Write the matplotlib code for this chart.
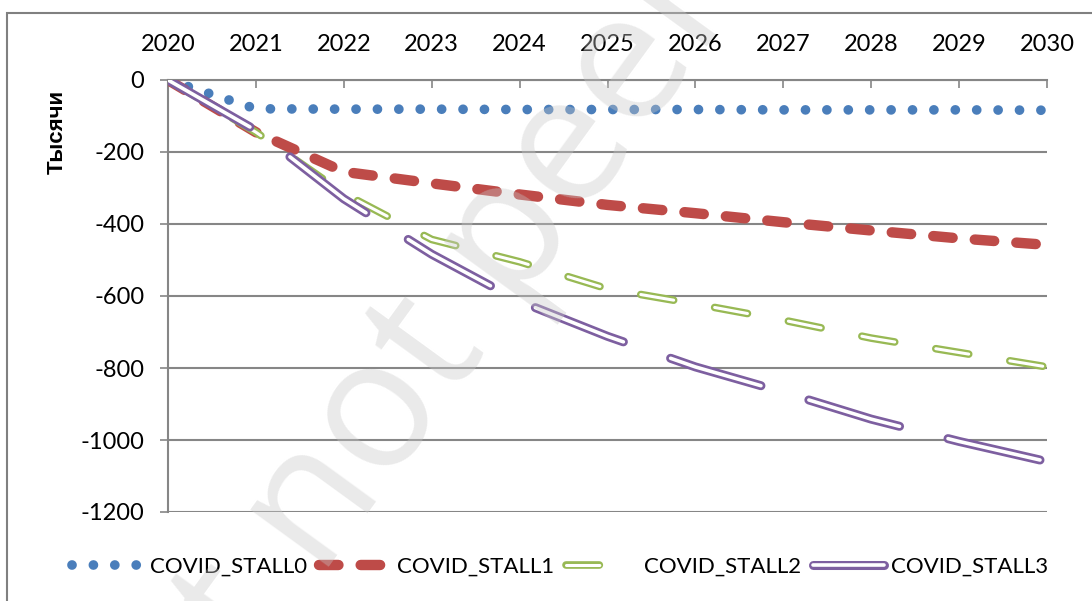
import matplotlib
matplotlib.use("Agg")
import matplotlib.pyplot as plt
from matplotlib.patches import Rectangle
from matplotlib.legend_handler import HandlerTuple

plt.rcParams['font.family'] = ['Lato', 'DejaVu Sans']
plt.rcParams['lines.scale_dashes'] = False
plt.rcParams['axes.unicode_minus'] = False

years = [2020, 2021, 2022, 2023, 2024, 2025, 2026, 2027, 2028, 2029, 2030]
stall0 = [0, -80, -81, -81, -82, -82, -82, -83, -83, -83, -84]
stall1 = [0, -145, -255, -287, -318, -347, -370, -395, -418, -440, -458]
stall2 = [0, -145, -315, -443, -505, -580, -622, -667, -717, -757, -797]
stall3 = [0, -140, -330, -484, -615, -712, -797, -867, -942, -1004, -1060]
labels = ["COVID_STALL0", "COVID_STALL1", "COVID_STALL2", "COVID_STALL3"]

grey = "#868686"

fig = plt.figure(figsize=(10.92, 6.01), dpi=100)
ax = fig.add_axes([168 / 1092, 1 - 512 / 601, (1047 - 168) / 1092, (512 - 80) / 601])

# blue round dots
l0, = ax.plot(years, stall0, color="#4a7ebb", lw=7, dashes=(0.01, 15.4),
              dash_capstyle="round", zorder=3)
# red dashes
l1, = ax.plot(years, stall1, color="#be4b48", lw=7.5, dashes=(14, 16),
              dash_capstyle="round", zorder=3)
# green hollow dashes
l2a, = ax.plot(years, stall2, color="#98b954", lw=5.5, dashes=(24, 30),
               dash_capstyle="round", zorder=4)
l2b, = ax.plot(years, stall2, color="white", lw=2.2, dashes=(24, 30),
               dash_capstyle="round", zorder=4)
# purple hollow long dashes
l3a, = ax.plot(years, stall3, color="#7d5fa0", lw=6.5, dashes=(68, 36),
               dash_capstyle="round", zorder=5)
l3b, = ax.plot(years, stall3, color="white", lw=2.6, dashes=(68, 36),
               dash_capstyle="round", zorder=5)

ax.set_xlim(2020, 2030)
ax.set_ylim(-1200, 0)
ax.set_xticks(years)
ax.set_yticks(range(-1200, 1, 200))
ax.xaxis.tick_top()
ax.tick_params(axis="x", direction="in", length=6, width=1.2, color=grey,
               labelsize=17, pad=18)
ax.tick_params(axis="y", direction="out", length=6, width=1.2, color=grey,
               labelsize=17, pad=11)
ax.yaxis.grid(True, color=grey, lw=1.5)
ax.set_axisbelow(True)
for s in ["right", "bottom"]:
    ax.spines[s].set_visible(False)
for s in ["left", "top"]:
    ax.spines[s].set_color(grey)
    ax.spines[s].set_linewidth(1.5)

fig.text(57 / 1092, 1 - 132 / 601, "Тысячи", rotation=90, ha="center", va="center",
         fontsize=16, fontweight="bold", family=["Liberation Sans", "DejaVu Sans"])

fig.legend([l0, l1, (l2a, l2b), (l3a, l3b)], labels,
           handler_map={tuple: HandlerTuple(ndivide=1)},
           loc="center", bbox_to_anchor=(560 / 1092, 1 - 567 / 601),
           ncol=4, frameon=False, fontsize=16, handlelength=3.2,
           handletextpad=0.3, columnspacing=0.55)

# chart area border (cut off at right and bottom)
fig.patches.append(Rectangle((7 / 1092, -0.1), 1.2, 1.1 - 13 / 601,
                             transform=fig.transFigure, fill=False,
                             edgecolor="#808080", lw=1.5))

fig.text(515 / 1092, 1 - 230 / 601, "Preprint not peer reviewed", rotation=54,
         ha="center", va="center", fontsize=130, color="#c8c8c8", alpha=0.38,
         family=["Open Sans", "DejaVu Sans"], zorder=10)

fig.savefig("out.png", dpi=100)
